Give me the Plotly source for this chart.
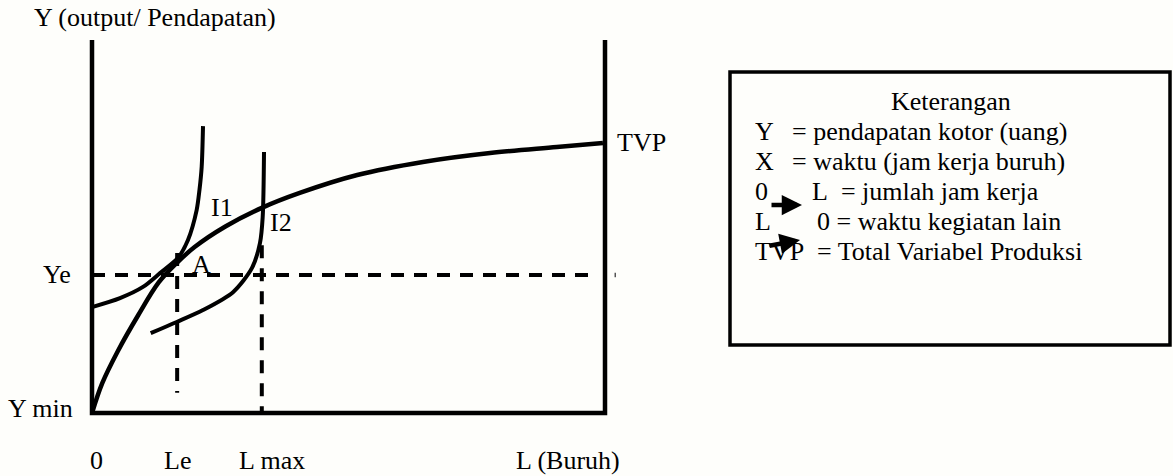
import plotly.graph_objects as go

# ---- diagram values (conceptual units: L = labour, Y = income) ----
L_MAX_AXIS = 10.0
Y_MAX_AXIS = 10.0
Ye = 3.70
Le = 1.66
Lmax = 3.31

tvp_L = [0.0, 0.2, 0.5, 0.9, 1.3, 1.65, 2.0, 2.6, 3.31, 4.05, 5.17, 6.45, 7.76, 9.06, 9.96]
tvp_Y = [0.0, 0.80, 1.65, 2.62, 3.50, 4.02, 4.45, 5.00, 5.50, 5.90, 6.38, 6.73, 6.97, 7.13, 7.24]

i1_L = [0.0, 0.546, 0.994, 1.326, 1.676, 1.871, 2.04, 2.095, 2.138, 2.164]
i1_Y = [2.84, 3.08, 3.38, 3.75, 4.16, 4.64, 5.44, 5.98, 6.60, 7.69]

i2_L = [1.144, 1.651, 2.164, 2.749, 3.119, 3.275, 3.327, 3.353]
i2_Y = [2.14, 2.44, 2.76, 3.24, 3.89, 4.56, 5.25, 7.00]

le_dash_Y = [4.29, 0.54]
lmax_dash_Y = [4.50, 0.0]
ye_dash_L = [0.0, 9.84]

x_tick_labels = ["0", "Le", "L max", "L (Buruh)"]
x_tick_pos = [0.08, 1.66, 3.51, 9.28]

legend_title = "Keterangan"
legend_col1 = ["Y", "X", "0", "L", "TVP"]
legend_col2 = ["= pendapatan kotor (uang)", "= waktu (jam kerja buruh)",
               "L  = jumlah jam kerja", "0 = waktu kegiatan lain",
               "= Total Variabel Produksi"]

# ---- layout helpers ----
W, H = 1173, 476
X0PX, XUNIT = 92.0, 51.3
Y0PX, YUNIT = 413.0, 37.3
xr = [-X0PX / XUNIT, (W - X0PX) / XUNIT]
yr = [(Y0PX - H) / YUNIT, Y0PX / YUNIT]

def px(x):
    return x / W

def py(y):
    return 1 - y / H

FONT = dict(family="Liberation Serif", size=26, color="black")
BLACK = "black"

fig = go.Figure()

# frame (axes)
fig.add_trace(go.Scatter(x=[0, 0, L_MAX_AXIS, L_MAX_AXIS], y=[Y_MAX_AXIS, 0, 0, Y_MAX_AXIS],
                         mode="lines", line=dict(color=BLACK, width=4.5), hoverinfo="skip"))
# dashed guide lines
dash = "13px,10px"
fig.add_trace(go.Scatter(x=ye_dash_L, y=[Ye, Ye], mode="lines",
                         line=dict(color=BLACK, width=4, dash=dash), hoverinfo="skip"))
fig.add_trace(go.Scatter(x=[Le, Le], y=le_dash_Y, mode="lines",
                         line=dict(color=BLACK, width=4, dash=dash), hoverinfo="skip"))
fig.add_trace(go.Scatter(x=[Lmax, Lmax], y=lmax_dash_Y, mode="lines",
                         line=dict(color=BLACK, width=4, dash=dash), hoverinfo="skip"))
# curves
fig.add_trace(go.Scatter(x=tvp_L, y=tvp_Y, mode="lines",
                         line=dict(color=BLACK, width=4.5, shape="spline", smoothing=1.0), hoverinfo="skip"))
fig.add_trace(go.Scatter(x=i1_L, y=i1_Y, mode="lines",
                         line=dict(color=BLACK, width=4, shape="spline", smoothing=0.8), hoverinfo="skip"))
fig.add_trace(go.Scatter(x=i2_L, y=i2_Y, mode="lines",
                         line=dict(color=BLACK, width=4, shape="spline", smoothing=0.8), hoverinfo="skip"))

ann = []
# axis title & labels
ann.append(dict(x=-1.17, y=10.59, text="Y (output/ Pendapatan)", xanchor="left", yanchor="middle"))
ann.append(dict(x=-0.37, y=Ye, text="Ye", xanchor="right", yanchor="middle"))
ann.append(dict(x=-0.33, y=0.13, text="Y min", xanchor="right", yanchor="middle"))
for t, p in zip(x_tick_labels, x_tick_pos):
    ann.append(dict(x=p, y=-1.26, text=t, xanchor="center", yanchor="middle"))
ann.append(dict(x=10.2, y=7.24, text="TVP", xanchor="left", yanchor="middle"))
ann.append(dict(x=2.28, y=5.52, text="I1", xanchor="left", yanchor="middle"))
ann.append(dict(x=3.43, y=5.12, text="I2", xanchor="left", yanchor="middle"))
ann.append(dict(x=1.91, y=3.97, text="A", xanchor="left", yanchor="middle"))
for a in ann:
    a.update(xref="x", yref="y", showarrow=False, font=FONT)

# legend box text (paper coords)
row_y = [131, 161, 191, 221, 251]
col2_x = [790, 790, 810, 815, 815]
ann.append(dict(x=px(951), y=py(101), text=legend_title, xanchor="center", yanchor="middle",
                xref="paper", yref="paper", showarrow=False, font=FONT))
for c1, c2, ry, cx in zip(legend_col1, legend_col2, row_y, col2_x):
    ann.append(dict(x=px(753), y=py(ry), text=c1, xanchor="left", yanchor="middle",
                    xref="paper", yref="paper", showarrow=False, font=FONT))
    ann.append(dict(x=px(cx), y=py(ry), text=c2.replace("  ", "\u00a0\u00a0"), xanchor="left", yanchor="middle",
                    xref="paper", yref="paper", showarrow=False, font=FONT))
# arrows in legend
for (hx, hy, ax, ay) in [(802, 205, -32, 0), (800, 240, -32, 6)]:
    ann.append(dict(x=px(hx), y=py(hy), ax=ax, ay=ay, text="", xref="paper", yref="paper",
                    showarrow=True, arrowhead=2, arrowsize=0.9, arrowwidth=4.5, arrowcolor=BLACK,
                    standoff=0, startstandoff=0))

shapes = [
    dict(type="rect", xref="paper", yref="paper", x0=px(730), x1=px(1170), y0=py(345), y1=py(72),
         line=dict(color=BLACK, width=3.5), fillcolor="rgba(0,0,0,0)"),
    dict(type="line", xref="x", yref="y", x0=10.2, x1=10.2, y0=Ye - 0.06, y1=Ye + 0.06,
         line=dict(color="#555", width=1.5)),
]

fig.update_layout(
    width=W, height=H, autosize=False,
    margin=dict(l=0, r=0, t=0, b=0, pad=0),
    paper_bgcolor="#fefefb", plot_bgcolor="#fefefb",
    showlegend=False,
    xaxis=dict(range=xr, visible=False, fixedrange=True),
    yaxis=dict(range=yr, visible=False, fixedrange=True),
    annotations=ann, shapes=shapes,
)

fig.write_html("out.html", config={"displayModeBar": False, "staticPlot": True},
               post_script="document.body.style.margin='0';document.body.style.background='#fefefb';")
